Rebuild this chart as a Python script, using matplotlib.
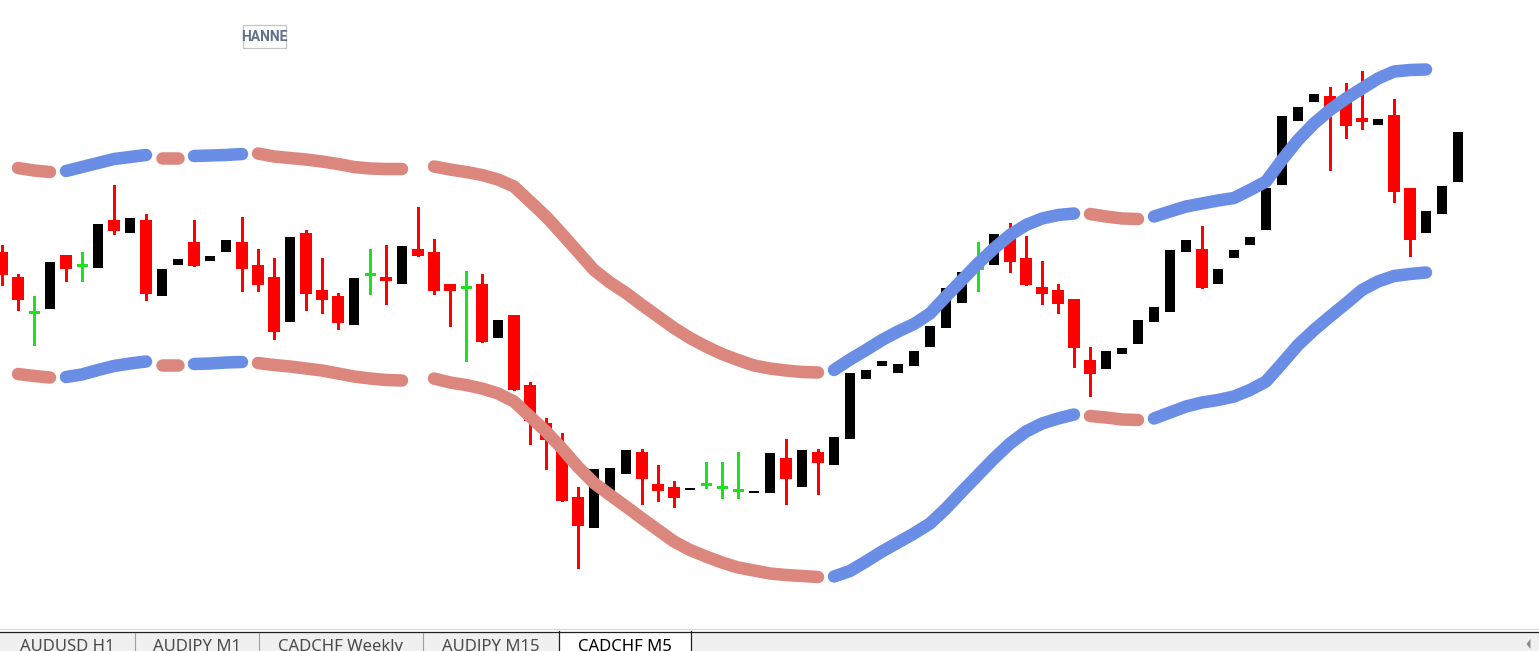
import matplotlib.pyplot as plt
import numpy as np
from matplotlib.patches import Rectangle, Polygon

# CADCHF M5 candles (price in points)
opens = [399, 374, 339, 342, 396, 386, 383, 431, 418, 431,
         355, 386, 409, 390, 399, 409, 386, 374, 329, 418,
         361, 355, 326, 377, 374, 367, 402, 399, 367, 364,
         367, 313, 336, 266, 228, 204, 154, 123, 159, 177,
         199, 167, 164, 161, 167, 164, 161, 158, 158, 193,
         164, 199, 186, 212, 272, 285, 278, 285, 304, 323,
         348, 383, 386, 415, 393, 364, 361, 352, 291, 282,
         297, 307, 329, 339, 399, 402, 367, 393, 406, 421,
         466, 530, 549, 555, 552, 533, 526, 536, 463, 418,
         437, 469]
highs = [406, 377, 355, 389, 396, 399, 427, 466, 433, 437,
         382, 392, 431, 395, 411, 434, 402, 393, 414, 421,
         393, 358, 373, 402, 406, 405, 444, 412, 367, 380,
         377, 331, 336, 269, 233, 218, 164, 182, 183, 201,
         202, 186, 170, 163, 189, 189, 199, 160, 198, 212,
         201, 202, 214, 278, 281, 290, 287, 300, 325, 363,
         379, 409, 417, 428, 415, 390, 367, 352, 304, 300,
         303, 331, 344, 401, 411, 425, 382, 401, 414, 463,
         535, 544, 557, 564, 568, 580, 532, 552, 463, 440,
         465, 519]
lows = [366, 341, 306, 342, 370, 370, 383, 417, 418, 351,
        355, 386, 385, 390, 399, 360, 360, 312, 329, 341,
        338, 322, 326, 357, 347, 367, 395, 357, 325, 290,
        309, 313, 261, 207, 182, 150, 83, 123, 159, 177,
        147, 150, 144, 161, 163, 153, 153, 158, 158, 147,
        164, 157, 186, 212, 272, 285, 278, 285, 304, 323,
        348, 360, 386, 379, 366, 347, 338, 284, 255, 282,
        297, 307, 329, 339, 399, 363, 367, 393, 406, 421,
        466, 530, 549, 481, 513, 522, 526, 449, 395, 418,
        437, 469]
closes = [376, 351, 339, 389, 382, 386, 427, 420, 433, 357,
          382, 392, 385, 395, 411, 382, 366, 319, 414, 357,
          351, 328, 373, 377, 370, 405, 395, 360, 360, 364,
          309, 331, 261, 230, 211, 150, 125, 182, 183, 201,
          172, 160, 153, 163, 167, 164, 161, 160, 198, 172,
          201, 188, 214, 278, 281, 290, 287, 300, 325, 363,
          379, 383, 417, 389, 366, 357, 347, 303, 277, 300,
          303, 331, 344, 401, 411, 363, 382, 401, 414, 463,
          535, 544, 557, 538, 525, 529, 532, 459, 411, 440,
          465, 519]

nan = np.nan
upper = [nan, 483, 480.5, 479, 480, 484, 488, 492, 494, 496,
         493.5, 493.5, 495, 495.5, 496, 497, 497.5, 494.5, 493, 491.5,
         489.5, 487, 484, 482.5, 482, 482, nan, 484.5, 481.5, 479,
         476, 471.5, 464.5, 449.5, 434.5, 417, 399, 381, 368.5, 358,
         346, 334.5, 323, 313, 304.5, 297, 291, 285.5, 282.5, 280.5,
         279, 278.5, 281, 291.5, 301, 311, 319.5, 327, 337.5, 354.5,
         371, 387.5, 402.5, 416, 426, 432.5, 436, 437.5, 437, 434.5,
         432.5, 432, 434.5, 439.5, 444.5, 447.5, 450.5, 453, 461, 469.5,
         491, 511, 527.5, 541, 552.5, 562.5, 572.5, 579.5, 581, 581.5,
         nan, nan]
lower = [nan, 277, 275, 273.5, 274, 276.5, 281, 285, 287.5, 289.5,
         286.5, 286.5, 287, 287.5, 288.5, 289, 288, 286, 284.5, 282.5,
         280.5, 277.5, 274.5, 272.5, 271, 270.5, nan, 272.5, 268.5, 266,
         262.5, 257.5, 249.5, 234.5, 219.5, 202.5, 184, 168, 156, 144.5,
         132.5, 121, 109.5, 101, 94.5, 88.5, 83.5, 80.5, 77.5, 76,
         75, 74, 74.5, 80, 89.5, 99.5, 108.5, 117.5, 127.5, 142.5,
         159.5, 176, 192.5, 207.5, 219.5, 227.5, 232.5, 236.5, 235, 233.5,
         231.5, 231, 232.5, 238.5, 244.5, 248.5, 251, 254.5, 261, 269.5,
         287.5, 306, 321, 334.5, 347.5, 361, 369.5, 375, 377, 378.5,
         nan, nan]
# slope state of the bands: (first candle, last candle, state)
segments = [(1, 3, 'down'), (4, 9, 'up'), (10, 11, 'down'), (12, 15, 'up'),
            (16, 25, 'down'), (27, 51, 'down'), (52, 67, 'up'),
            (68, 71, 'down'), (72, 89, 'up')]

tabs = ['AUDUSD H1', 'AUDJPY M1', 'CADCHF Weekly', 'AUDJPY M15', 'CADCHF M5']
active_tab = 4

band_colors = {'up': '#6A8EE6', 'down': '#DB877E'}

fig = plt.figure(figsize=(15.39, 6.51), dpi=100)
ax = fig.add_axes([0, 0, 1, 1])
ax.set_xlim(-0.125, 96.0625)
ax.set_ylim(0, 651)
ax.axis('off')

x = np.arange(len(opens))
o = np.array(opens, float)
c = np.array(closes, float)
h = np.array(highs, float)
l = np.array(lows, float)

bear = c < o
bull = c > o
doji = c == o

# bear candles: red body and red wick
ax.vlines(x[bear], l[bear], h[bear], color='red', lw=0.9, antialiased=False, zorder=1)
ax.bar(x[bear], (o - c)[bear], bottom=c[bear], width=0.75, color='red', linewidth=0, zorder=2)
# bull candles: black body
ax.bar(x[bull], (c - o)[bull], bottom=o[bull], width=0.625, color='black', linewidth=0, zorder=2)
# doji: green cross
ax.vlines(x[doji], l[doji], h[doji], color='#1EE01E', lw=0.9, antialiased=False, zorder=1)
ax.hlines(o[doji], x[doji] - 0.34, x[doji] + 0.34, color='#1EE01E', lw=0.9,
          antialiased=False, zorder=1)

up = np.array(upper, float)
lo = np.array(lower, float)
for s, e, state in segments:
    for band in (up, lo):
        ax.plot(x[s:e + 1], band[s:e + 1], color=band_colors[state], lw=9,
                solid_capstyle='round', solid_joinstyle='round', zorder=3)

# terminal chrome: object label and tab bar, in pixel coordinates
ov = fig.add_axes([0, 0, 1, 1], zorder=10)
ov.set_xlim(0, 1539)
ov.set_ylim(651, 0)
ov.axis('off')
ov.patch.set_alpha(0)

box = Rectangle((243, 25), 43, 23, facecolor='white', edgecolor='#C4C4C4', lw=0.9)
ov.add_patch(box)
lbl = ov.text(264.5, 37, 'HANNE', ha='center', va='center', fontsize=10, fontweight='bold',
              family=['Roboto', 'DejaVu Sans'], color='#5F6F8C')
lbl.set_clip_path(box)

ov.add_patch(Rectangle((0, 629), 1539, 22, facecolor='white', edgecolor='none'))
ov.plot([0, 1539], [628.5, 628.5], color='#D9D9D9', lw=0.8)
ov.add_patch(Rectangle((0, 631.5), 1539, 20, facecolor='#F0F0F0', edgecolor='none'))
ov.plot([0, 1539], [631.5, 631.5], color='#202020', lw=0.9)

edges = [0, 135, 259, 423, 559, 691]
for i, name in enumerate(tabs):
    x0, x1 = edges[i], edges[i + 1]
    if i == active_tab:
        ov.add_patch(Rectangle((x0, 629), x1 - x0, 22, facecolor='white', edgecolor='none'))
        ov.plot([x0, x0], [631, 651], color='#202020', lw=0.9)
        ov.plot([x1, x1], [631, 651], color='#202020', lw=0.9)
        col = 'black'
    else:
        if i > 0:
            ov.plot([x0, x0], [633, 651], color='#A0A0A0', lw=0.8)
        col = '#4A4A4A'
    ov.text((x0 + x1) / 2, 651, name, ha='center', va='baseline', fontsize=12,
            family='Noto Sans', color=col)

ov.add_patch(Polygon([(1526.5, 644), (1530.5, 639), (1530.5, 649)], closed=True,
                     facecolor='#8A8A8A', edgecolor='none'))

fig.savefig('out.png', dpi=100)
